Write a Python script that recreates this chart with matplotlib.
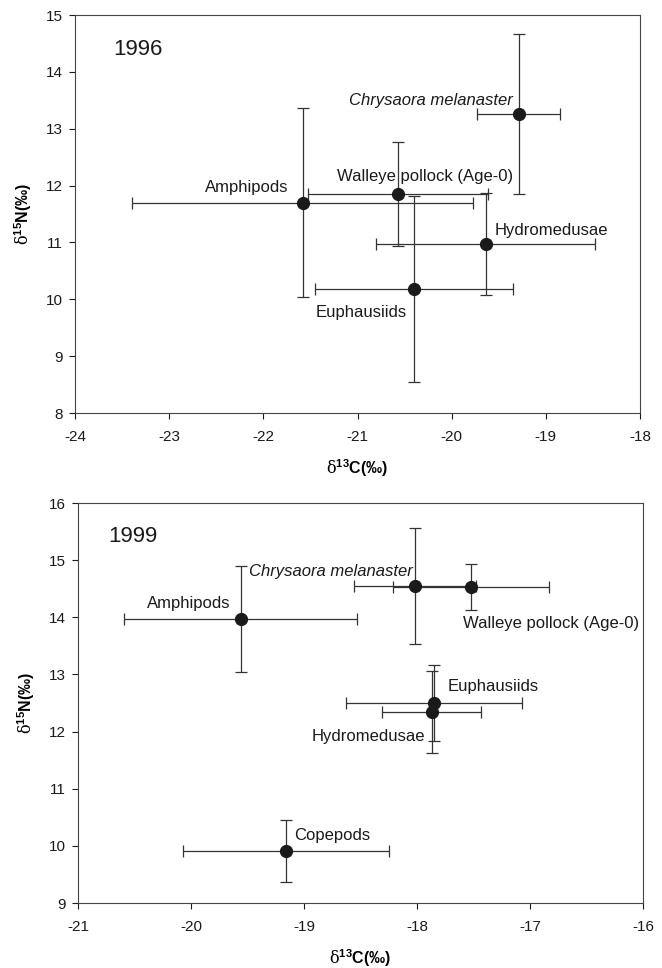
import numpy as np
import matplotlib
matplotlib.use('Agg')
import matplotlib.pyplot as plt

plt.rcParams['font.family'] = ['Liberation Sans', 'DejaVu Sans']
plt.rcParams['mathtext.fontset'] = 'custom'
plt.rcParams['mathtext.rm'] = 'DejaVu Serif'
plt.rcParams['mathtext.it'] = 'Liberation Sans:italic'
plt.rcParams['mathtext.bf'] = 'Liberation Sans:bold'
plt.rcParams['axes.unicode_minus'] = False

# 1996 data
names96 = ['Chrysaora melanaster', 'Walleye pollock (Age-0)', 'Amphipods', 'Hydromedusae', 'Euphausiids']
c96 = [-19.29, -20.57, -21.58, -19.64, -20.40]
n96 = [13.26, 11.85, 11.70, 10.97, 10.18]
c96_err = [0.44, 0.96, 1.81, 1.16, 1.05]
n96_err = [1.40, 0.91, 1.66, 0.90, 1.64]
lab96_x = [-20.22, -20.28, -22.18, -18.94, -20.96]
lab96_y = [13.50, 12.16, 11.97, 11.21, 9.76]

# 1999 data
names99 = ['Chrysaora melanaster', 'Walleye pollock (Age-0)', 'Amphipods', 'Euphausiids', 'Hydromedusae', 'Copepods']
c99 = [-18.02, -17.52, -19.56, -17.85, -17.87, -19.16]
n99 = [14.55, 14.53, 13.97, 12.50, 12.34, 9.91]
c99_err = [0.54, 0.69, 1.03, 0.78, 0.44, 0.91]
n99_err = [1.01, 0.40, 0.92, 0.67, 0.72, 0.54]
lab99_x = [-18.76, -16.81, -20.02, -17.33, -18.43, -18.75]
lab99_y = [14.81, 13.89, 14.25, 12.79, 11.91, 10.19]

ink = '#1a1a1a'


def panel(ax, year, yr_xy, names, x, y, xe, ye, lx, ly, xlim, ylim):
    ax.errorbar(x, y, xerr=xe, yerr=ye, fmt='o', ms=8.5, color=ink,
                ecolor='#333333', elinewidth=0.9, capsize=4, capthick=0.9)
    for name, tx, ty in zip(names, lx, ly):
        style = 'italic' if name.startswith('Chrysaora') else 'normal'
        ax.text(tx, ty, name, ha='center', va='center', fontsize=12,
                style=style, color=ink)
    ax.text(yr_xy[0], yr_xy[1], year, ha='center', va='center', fontsize=16, color=ink)
    ax.set_xlim(*xlim)
    ax.set_ylim(*ylim)
    ax.set_xticks(np.arange(xlim[0], xlim[1] + 1, 1))
    ax.set_yticks(np.arange(ylim[0], ylim[1] + 1, 1))
    ax.tick_params(direction='out', length=4, width=0.8, labelsize=11, colors=ink)
    ax.tick_params(axis='x', pad=8)
    ax.tick_params(axis='y', pad=5)
    for s in ax.spines.values():
        s.set_linewidth(0.8)
        s.set_color('#444444')
    ax.set_xlabel(r'$\mathrm{\delta}^{\mathbf{13}}$C(‰)', fontsize=11.5, fontweight='bold', labelpad=10)
    ax.set_ylabel(r'$\mathrm{\delta}^{\mathbf{15}}$N(‰)', fontsize=11.5, fontweight='bold', labelpad=8)


fig = plt.figure(figsize=(6.62, 9.68), dpi=100)
ax1 = fig.add_axes([0.1133, 0.5733, 0.8535, 0.4112])
ax2 = fig.add_axes([0.1178, 0.0671, 0.8535, 0.4132])

panel(ax1, '1996', (-23.33, 14.4), names96, c96, n96, c96_err, n96_err,
      lab96_x, lab96_y, (-24, -18), (8, 15))
panel(ax2, '1999', (-20.51, 15.42), names99, c99, n99, c99_err, n99_err,
      lab99_x, lab99_y, (-21, -16), (9, 16))

fig.savefig('out.png', dpi=100)
